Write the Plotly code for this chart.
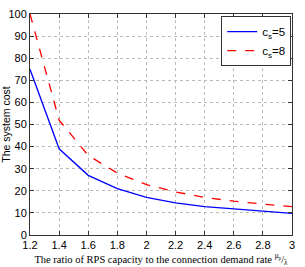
import plotly.graph_objects as go

ratio = [1.2, 1.4, 1.6, 1.8, 2.0, 2.2, 2.4, 2.6, 2.8, 3.0]
cost_cs5 = [75, 39, 27, 21, 17, 14.5, 12.8, 11.7, 10.6, 9.8]
cost_cs8 = [100, 52, 36, 28, 22.8, 19.5, 17, 15.3, 14, 12.8]
x_ticks = [1.2, 1.4, 1.6, 1.8, 2, 2.2, 2.4, 2.6, 2.8, 3]
x_tick_text = ["1.2", "1.4", "1.6", "1.8", "2", "2.2", "2.4", "2.6", "2.8", "3"]
y_ticks = [0, 10, 20, 30, 40, 50, 60, 70, 80, 90, 100]

fig = go.Figure()
fig.add_trace(go.Scatter(x=ratio, y=cost_cs5, mode="lines", name="c<sub>s</sub>=5",
                         line=dict(color="#0000ff", width=1.3)))
fig.add_trace(go.Scatter(x=ratio, y=cost_cs8, mode="lines", name="c<sub>s</sub>=8",
                         line=dict(color="#ff0000", width=1.3, dash="dash")))

axis_common = dict(showline=True, linecolor="#333", linewidth=1, mirror="ticks",
                   ticks="inside", ticklen=4, tickcolor="#333",
                   showgrid=True, gridcolor="#bbb", griddash="dot", gridwidth=1,
                   zeroline=False, automargin=False,
                   tickfont=dict(family="Liberation Sans, Arial", size=11, color="#000"))

fig.update_layout(
    width=305, height=267,
    margin=dict(l=30, r=13, t=14, b=32),
    paper_bgcolor="white", plot_bgcolor="white",
    xaxis=dict(range=[1.2, 3], tickvals=x_ticks, ticktext=x_tick_text,
               title=dict(text="The ratio of RPS capacity to the connection demand rate <sup>μ<sub>p</sub></sup>/<sub>λ</sub>",
                          font=dict(family="Liberation Serif, Times New Roman", size=10.5, color="#000"),
                          standoff=1),
               **axis_common),
    yaxis=dict(range=[0, 100], tickvals=y_ticks,
               title=dict(text="The system cost", font=dict(family="Liberation Sans, Arial", size=10.5, color="#000"),
                          standoff=2),
               **axis_common),
    legend=dict(x=0.997, y=0.99, xanchor="right", yanchor="top",
                bgcolor="white", bordercolor="#333", borderwidth=1,
                font=dict(family="Liberation Sans, Arial", size=11.5, color="#000"),
                tracegroupgap=2, itemwidth=30),
    showlegend=True,
)

fig.write_html("out.html", config={"displayModeBar": False},
               post_script="document.body.style.margin='0px';")
